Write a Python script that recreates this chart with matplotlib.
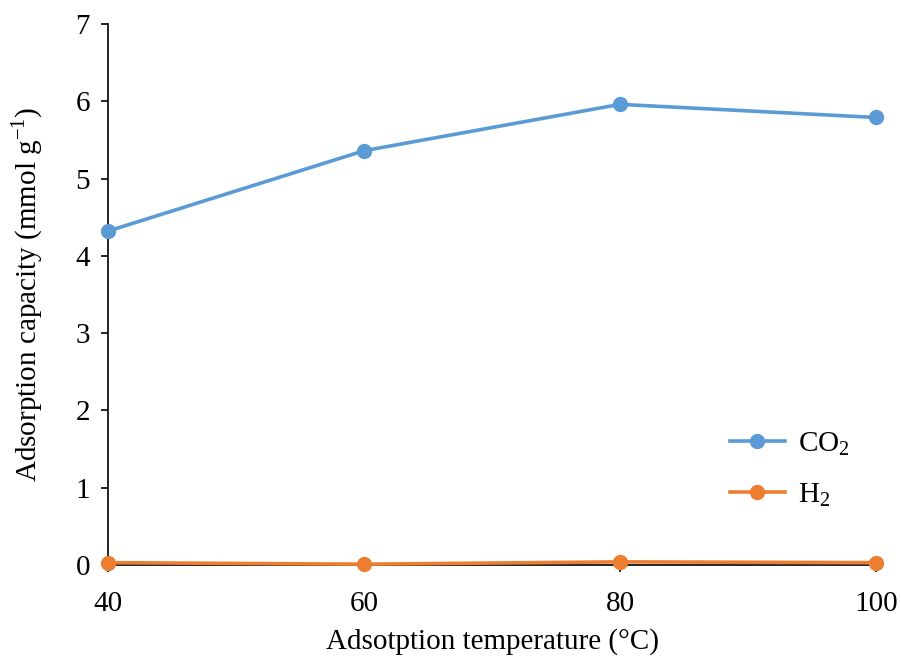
import matplotlib.pyplot as plt

plt.rcParams['font.family'] = ['Liberation Serif', 'DejaVu Serif']
plt.rcParams['mathtext.fontset'] = 'custom'
plt.rcParams['mathtext.rm'] = 'Liberation Serif'

temps = [40, 60, 80, 100]
co2 = [4.32, 5.36, 5.96, 5.79]
h2 = [0.03, 0.01, 0.04, 0.03]

fig = plt.figure(figsize=(9.01, 6.66), dpi=100)
ax = fig.add_axes([0.1199, 0.1517, 0.8524, 0.8123])

ax.plot(temps, co2, color='#5B9BD5', lw=2.6, marker='o', ms=10, label='CO$_\\mathrm{2}$', clip_on=False, zorder=3)
ax.plot(temps, h2, color='#ED7D31', lw=2.6, marker='o', ms=10, label='H$_\\mathrm{2}$', clip_on=False, zorder=3)

ax.set_xlim(40, 100)
ax.set_ylim(0, 7)
ax.set_xticks(temps)
ax.set_yticks(range(0, 8))
ax.tick_params(labelsize=21, direction='out', length=5, width=1.2)
ax.tick_params(axis='x', pad=14)
ax.tick_params(axis='y', pad=8)
ax.spines['top'].set_visible(False)
ax.spines['right'].set_visible(False)
ax.spines['left'].set_linewidth(1.2)
ax.spines['bottom'].set_linewidth(1.2)

ax.set_xlabel('Adsotption temperature (°C)', fontsize=21, labelpad=8)
ax.set_ylabel('Adsorption capacity (mmol g$^\\mathrm{-1}$)', fontsize=21, labelpad=22)

ax.legend(loc='lower right', bbox_to_anchor=(1.0, 0.055), frameon=False, fontsize=21,
          handlelength=1.9, handletextpad=0.45, labelspacing=0.8)

fig.savefig('out.png', dpi=100)
